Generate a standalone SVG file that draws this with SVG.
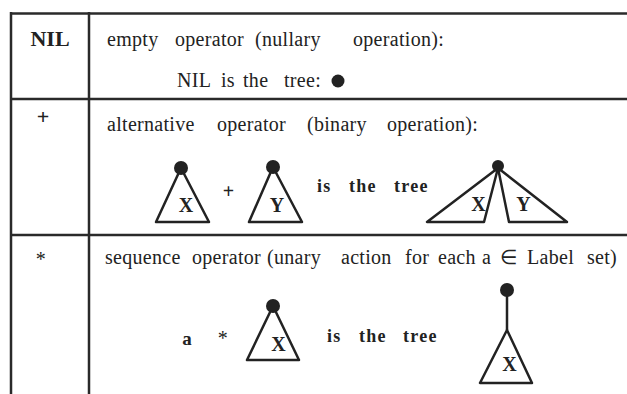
<svg xmlns="http://www.w3.org/2000/svg" width="627" height="394" viewBox="0 0 627 394">
<style>
.rule{stroke:#2a2a2a;stroke-width:2.5;fill:none}
.t{font-family:"Liberation Serif","Times New Roman",serif;font-size:20px;letter-spacing:0.3px;fill:#222}
.b{font-family:"Liberation Serif","Times New Roman",serif;font-weight:bold;fill:#222}
.bt{font-family:"Liberation Serif","Times New Roman",serif;font-weight:bold;font-size:18px;letter-spacing:1.3px;fill:#222}
.tri{fill:#fff;stroke:#222;stroke-width:2.5;stroke-linejoin:round}
.dot{fill:#222}
</style>
<rect width="627" height="394" fill="#fff"/>
<g id="table" class="rule">
<line x1="11" y1="13.5" x2="627" y2="13.5"/>
<line x1="11" y1="99" x2="627" y2="99"/>
<line x1="11" y1="235" x2="627" y2="235"/>
<line x1="11" y1="12" x2="11" y2="394"/>
<line x1="89" y1="12" x2="89" y2="394"/>
</g>
<g id="row-nil">
<text class="b" x="50" y="45.5" font-size="22" text-anchor="middle">NIL</text>
<text class="t" y="45.5"><tspan x="107">empty</tspan><tspan x="175">operator</tspan><tspan x="255">(nullary</tspan><tspan x="353">operation):</tspan></text>
<text class="t" y="87"><tspan x="177">NIL</tspan><tspan x="221">is</tspan><tspan x="243">the</tspan><tspan x="284">tree:</tspan></text>
<circle class="dot" cx="338" cy="81" r="6.5"/>
</g>
<g id="row-plus">
<text class="b" x="43" y="124" font-size="22" text-anchor="middle">+</text>
<text class="t" y="130.5"><tspan x="107">alternative</tspan><tspan x="217">operator</tspan><tspan x="307">(binary</tspan><tspan x="387">operation):</tspan></text>
<g id="tree-x1">
<polygon class="tri" points="181,168 156,222 209,222"/>
<circle class="dot" cx="181" cy="168" r="7"/>
<text class="b" x="186" y="212" font-size="20" text-anchor="middle">X</text>
</g>
<text class="b" x="228.5" y="198" font-size="20" text-anchor="middle">+</text>
<g id="tree-y1">
<polygon class="tri" points="273,167 249,222 302,222"/>
<circle class="dot" cx="273" cy="167" r="7"/>
<text class="b" x="277" y="212" font-size="20" text-anchor="middle">Y</text>
</g>
<text class="bt" y="192"><tspan x="317">is</tspan><tspan x="349">the</tspan><tspan x="394">tree</tspan></text>
<g id="tree-xy">
<polygon class="tri" points="498,168 427,222 484,222"/>
<polygon class="tri" points="498,168 509,222 567,222"/>
<circle class="dot" cx="498" cy="166" r="6"/>
<text class="b" x="478.5" y="211" font-size="20" text-anchor="middle">X</text>
<text class="b" x="523.5" y="211" font-size="20" text-anchor="middle">Y</text>
</g>
</g>
<g id="row-star">
<text class="t" x="41" y="266" text-anchor="middle" font-size="20">*</text>
<text class="t" y="264"><tspan x="105">sequence</tspan><tspan x="192">operator</tspan><tspan x="267">(unary</tspan><tspan x="341">action</tspan><tspan x="405">for</tspan><tspan x="438">each</tspan><tspan x="482">a</tspan><tspan x="500">∈</tspan><tspan x="527">Label</tspan><tspan x="587">set)</tspan></text>
<text class="b" x="187" y="345" font-size="19" text-anchor="middle">a</text>
<text class="t" x="223" y="345" font-size="18" text-anchor="middle">*</text>
<g id="tree-x2">
<polygon class="tri" points="273,306 247,360 299,360"/>
<circle class="dot" cx="273" cy="306" r="7"/>
<text class="b" x="278.5" y="351" font-size="20" text-anchor="middle">X</text>
</g>
<text class="bt" y="342"><tspan x="327">is</tspan><tspan x="359">the</tspan><tspan x="403">tree</tspan></text>
<g id="tree-ax">
<line x1="507" y1="290" x2="507" y2="330" stroke="#222" stroke-width="2.5"/>
<polygon class="tri" points="507,330 480,383 532,383"/>
<circle class="dot" cx="507" cy="290" r="7"/>
<text class="b" x="509.5" y="371" font-size="20" text-anchor="middle">X</text>
</g>
</g>
</svg>
